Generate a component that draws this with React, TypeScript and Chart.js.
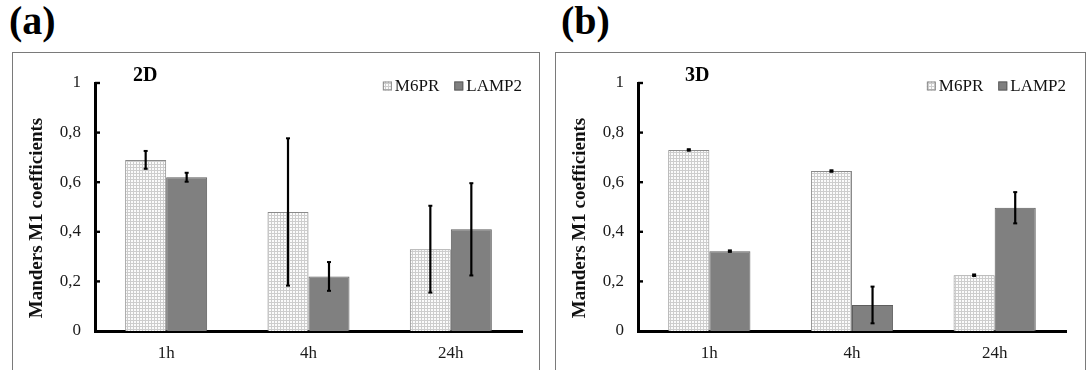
import React, { useEffect, useRef } from 'react';
import { Chart, registerables } from 'chart.js';

Chart.register(...registerables);

// Time points and series
const categories = ['1h', '4h', '24h'];
const seriesNames = ['M6PR', 'LAMP2'];

// 2D culture: means and error half-widths
const m6pr2D = [0.69, 0.48, 0.33];
const m6pr2DErr = [0.036, 0.297, 0.175];
const lamp2_2D = [0.62, 0.22, 0.41];
const lamp2_2DErr = [0.018, 0.058, 0.186];

// 3D culture: means and error half-widths
const m6pr3D = [0.73, 0.645, 0.225];
const m6pr3DErr = [0.003, 0.003, 0.003];
const lamp2_3D = [0.322, 0.105, 0.497];
const lamp2_3DErr = [0.003, 0.074, 0.063];

const yTickLabels = ['0', '0,2', '0,4', '0,6', '0,8', '1'];
const yAxisTitle = 'Manders M1 coefficients';

const SERIF = "'Liberation Serif', 'Times New Roman', serif";

type PanelSpec = {
  letter: string;
  title: string;
  frameLeft: number;
  frameWidth: number;
  letterLeft: number;
  titleX: number;
  padRight: number;
  m6pr: number[];
  m6prErr: number[];
  lamp2: number[];
  lamp2Err: number[];
};

const panels: PanelSpec[] = [
  {
    letter: '(a)', title: '2D', frameLeft: 12, frameWidth: 528, letterLeft: 9, titleX: 120, padRight: 17,
    m6pr: m6pr2D, m6prErr: m6pr2DErr, lamp2: lamp2_2D, lamp2Err: lamp2_2DErr,
  },
  {
    letter: '(b)', title: '3D', frameLeft: 555, frameWidth: 531, letterLeft: 561, titleX: 129, padRight: 19,
    m6pr: m6pr3D, m6prErr: m6pr3DErr, lamp2: lamp2_3D, lamp2Err: lamp2_3DErr,
  },
];

const CANVAS_H = 318;

function makeGridPattern(): CanvasPattern | string {
  const tile = document.createElement('canvas');
  tile.width = 3;
  tile.height = 3;
  const g = tile.getContext('2d');
  if (!g) return '#e4e4e4';
  g.fillStyle = '#fbfbfb';
  g.fillRect(0, 0, 3, 3);
  g.fillStyle = '#cdcdcd';
  g.fillRect(0, 0, 3, 1);
  g.fillRect(0, 0, 1, 3);
  return g.createPattern(tile, 'repeat') || '#e4e4e4';
}

function Panel({ spec }: { spec: PanelSpec }) {
  const ref = useRef<HTMLCanvasElement | null>(null);
  const innerW = spec.frameWidth - 2;

  useEffect(() => {
    const canvas = ref.current;
    if (!canvas) return;
    const pattern = makeGridPattern();
    const errors = [spec.m6prErr, spec.lamp2Err];
    const fills = [pattern, '#808080'];
    const strokes = ['#8a8a8a', '#5e5e5e'];

    const errorBars = {
      id: 'errorBars',
      afterDatasetsDraw(chart: any) {
        const ctx = chart.ctx;
        const y = chart.scales.y;
        ctx.save();
        ctx.strokeStyle = '#000';
        ctx.fillStyle = '#000';
        chart.data.datasets.forEach((ds: any, i: number) => {
          const meta = chart.getDatasetMeta(i);
          meta.data.forEach((bar: any, j: number) => {
            const v = ds.data[j];
            const e = errors[i][j];
            const yTop = y.getPixelForValue(v + e);
            const yBot = y.getPixelForValue(v - e);
            ctx.lineWidth = 2.2;
            ctx.beginPath();
            ctx.moveTo(bar.x, yTop);
            ctx.lineTo(bar.x, yBot);
            ctx.stroke();
            ctx.fillRect(bar.x - 2, yTop - 1, 4, 2);
            ctx.fillRect(bar.x - 2, yBot - 1, 4, 2);
          });
        });
        ctx.restore();
      },
    };

    const overlay = {
      id: 'overlay',
      afterDraw(chart: any) {
        const ctx = chart.ctx;
        const area = chart.chartArea;
        const y = chart.scales.y;
        ctx.save();

        // inward tick marks on the value axis
        ctx.fillStyle = '#000';
        y.ticks.forEach((t: any) => {
          if (t.value === 0) return;
          const py = y.getPixelForValue(t.value);
          ctx.fillRect(area.left, py - 1.2, 5, 2.4);
        });

        // value axis title
        ctx.save();
        ctx.translate(24, 165);
        ctx.rotate(-Math.PI / 2);
        ctx.font = `bold 19px ${SERIF}`;
        ctx.textAlign = 'center';
        ctx.textBaseline = 'middle';
        ctx.fillStyle = '#111';
        ctx.fillText(yAxisTitle, 0, 0);
        ctx.restore();

        // panel title
        ctx.font = `bold 20px ${SERIF}`;
        ctx.textAlign = 'left';
        ctx.textBaseline = 'middle';
        ctx.fillStyle = '#000';
        ctx.fillText(spec.title, spec.titleX, 23);

        // legend
        ctx.font = `17px ${SERIF}`;
        const box = 9;
        const gap = 3;
        const spacing = 15;
        const labels = chart.data.datasets.map((d: any) => d.label as string);
        const widths = labels.map((l: string) => ctx.measureText(l).width);
        const total = widths.reduce((s: number, w: number) => s + box + gap + w, 0) + spacing * (labels.length - 1);
        let lx = area.right - total;
        const ly = 33;
        labels.forEach((l: string, i: number) => {
          ctx.fillStyle = fills[i] as any;
          ctx.fillRect(lx, ly - box / 2, box, box);
          ctx.strokeStyle = strokes[i];
          ctx.lineWidth = 1;
          ctx.strokeRect(lx + 0.5, ly - box / 2 + 0.5, box - 1, box - 1);
          ctx.fillStyle = '#111';
          ctx.textBaseline = 'middle';
          ctx.fillText(l, lx + box + gap, ly + 1);
          lx += box + gap + widths[i] + spacing;
        });

        ctx.restore();
      },
    };

    const tickFont = { family: SERIF, size: 17 };

    const chart = new Chart(canvas, {
      type: 'bar',
      data: {
        labels: categories,
        datasets: [
          { label: seriesNames[0], data: spec.m6pr, backgroundColor: fills[0] as any, borderColor: strokes[0], borderWidth: 1 },
          { label: seriesNames[1], data: spec.lamp2, backgroundColor: fills[1] as any, borderColor: strokes[1], borderWidth: 1 },
        ],
      },
      options: {
        responsive: false,
        maintainAspectRatio: false,
        animation: false,
        devicePixelRatio: 1,
        layout: { padding: { top: 30, right: spec.padRight, bottom: 0, left: 0 } },
        datasets: { bar: { categoryPercentage: 0.576, barPercentage: 1 } },
        plugins: {
          legend: { display: false },
          tooltip: { enabled: false },
          title: { display: false },
        },
        scales: {
          x: {
            z: 1,
            offset: true,
            grid: { display: false, drawTicks: false },
            border: { display: true, color: '#000', width: 3 },
            ticks: { font: tickFont, color: '#1a1a1a', padding: 12 },
            afterFit: (s: any) => { s.height = 40; },
          },
          y: {
            z: 1,
            min: 0,
            max: 1,
            grid: { display: false, drawTicks: false },
            border: { display: true, color: '#000', width: 3 },
            ticks: {
              stepSize: 0.2,
              padding: 14,
              font: tickFont,
              color: '#1a1a1a',
              callback: (_v: any, i: number) => yTickLabels[i],
            },
            afterFit: (s: any) => { s.width = 82; },
          },
        },
      },
      plugins: [errorBars, overlay],
    });

    return () => chart.destroy();
  }, [spec]);

  return (
    <>
      <div
        style={{
          position: 'absolute', left: spec.letterLeft, top: 1,
          fontFamily: SERIF, fontWeight: 'bold', fontSize: 40, lineHeight: '40px', color: '#000',
        }}
      >
        {spec.letter}
      </div>
      <div
        style={{
          position: 'absolute', left: spec.frameLeft, top: 52,
          width: innerW, height: CANVAS_H, border: '1px solid #7a7a7a', background: '#fff',
        }}
      >
        <canvas ref={ref} width={innerW} height={CANVAS_H} style={{ display: 'block', width: innerW, height: CANVAS_H }} />
      </div>
    </>
  );
}

export default function App() {
  return (
    <div
      style={{
        position: 'fixed', left: 0, top: 0, width: 1089, height: 370,
        background: '#fff', overflow: 'hidden',
      }}
    >
      {panels.map((p) => <Panel key={p.letter} spec={p} />)}
    </div>
  );
}
